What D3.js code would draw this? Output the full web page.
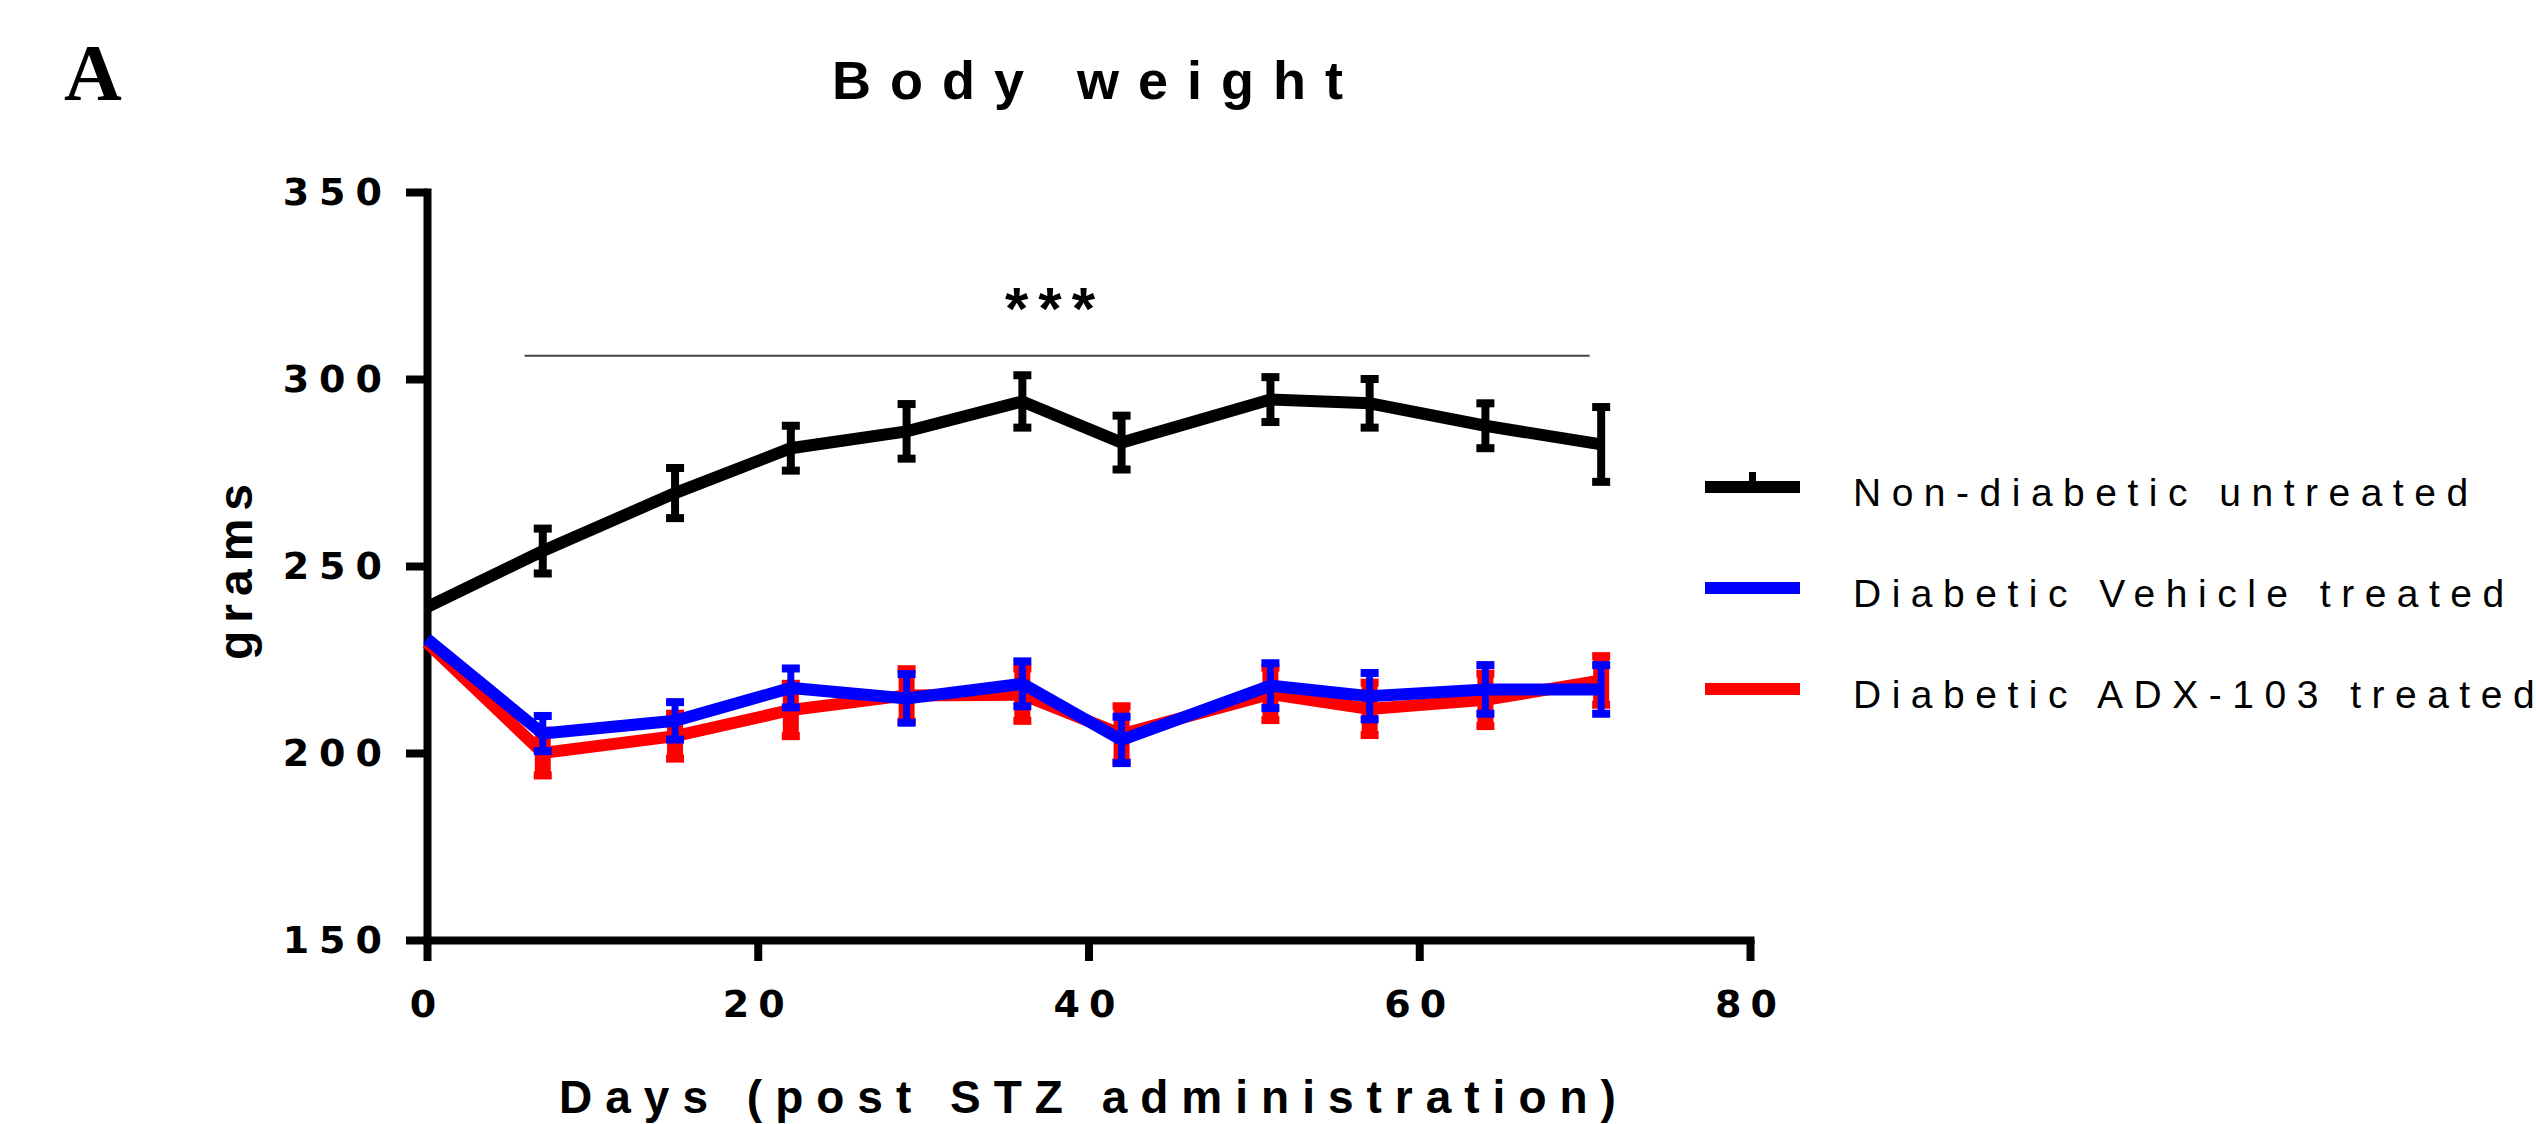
<!DOCTYPE html>
<html>
<head>
<meta charset="utf-8">
<script src="https://cdn.jsdelivr.net/npm/d3@7"></script>
<style>
  body { margin: 0; background: #fff; }
  svg { display: block; }
</style>
</head>
<body>
<div id="chart"></div>
<script>
const width = 2536;
const height = 1124;

// days post STZ
const days = [0, 7, 15, 22, 29, 36, 42, 51, 57, 64, 71];

const nonDiabetic = [239, 254, 269.5, 281.5, 286, 294, 283, 294.5, 293.5, 287.5, 282.5];
const nonDiabeticSem = [0, 6, 6.7, 6, 7.3, 7, 7.2, 6, 6.5, 6, 10];

const vehicle = [230.5, 205.2, 208.6, 217.4, 214.6, 218.5, 203.5, 218, 215.2, 217, 217];
const vehicleSem = [0, 4.7, 5, 5.2, 6.5, 6, 6.2, 6, 6.2, 6.5, 6.5];

const adx = [229.5, 200, 204.5, 211.5, 215.4, 215.6, 205, 215.8, 211.8, 214.2, 219.4];
const adxSem = [0, 6, 6, 7, 7, 7, 7.5, 7, 7, 7, 6.5];

const xTicks = [0, 20, 40, 60, 80];
const yTicks = [150, 200, 250, 300, 350];

const seriesNames = ["Non-diabetic untreated", "Diabetic Vehicle treated", "Diabetic ADX-103 treated"];
const seriesColors = ["#000000", "#0000ff", "#ff0000"];

// drawing order: black, red, then blue on top
const series = [
  { name: seriesNames[0], color: seriesColors[0], mean: nonDiabetic, sem: nonDiabeticSem, lw: 12, stem: 8 },
  { name: seriesNames[2], color: seriesColors[2], mean: adx, sem: adxSem, lw: 12, stem: 16 },
  { name: seriesNames[1], color: seriesColors[1], mean: vehicle, sem: vehicleSem, lw: 12, stem: 7 }
];

const x = d3.scaleLinear().domain([0, 80]).range([427, 1750]);
const y = d3.scaleLinear().domain([150, 350]).range([940, 192]);

const svg = d3.select("#chart")
  .append("svg")
  .attr("width", width)
  .attr("height", height);

// panel letter
svg.append("text")
  .attr("x", 64)
  .attr("y", 100)
  .attr("font-family", "Liberation Serif, Times New Roman, serif")
  .attr("font-weight", "bold")
  .attr("font-size", 80)
  .text("A");

// title
svg.append("text")
  .attr("x", 1087 + 10)
  .attr("y", 99)
  .attr("text-anchor", "middle")
  .attr("font-family", "Liberation Sans, Arial, sans-serif")
  .attr("font-weight", "bold")
  .attr("font-size", 54)
  .attr("letter-spacing", 19)
  .text("Body weight");

// axes
const xAxis = svg.append("g")
  .attr("transform", `translate(0,${y(150)})`)
  .call(d3.axisBottom(x).tickValues(xTicks).tickSize(21).tickSizeOuter(0).tickPadding(22));

const yAxis = svg.append("g")
  .attr("transform", `translate(${x(0)},0)`)
  .call(d3.axisLeft(y).tickValues(yTicks).tickSize(21).tickSizeOuter(0).tickPadding(24));

[xAxis, yAxis].forEach(g => {
  g.select(".domain").attr("stroke-width", 8).attr("stroke-linecap", "square");
  g.selectAll(".tick line").attr("stroke-width", 8);
  g.selectAll(".tick text")
    .attr("font-family", "DejaVu Sans, sans-serif")
    .attr("font-weight", "bold")
    .attr("font-size", 38)
    .attr("fill", "#000");
});
xAxis.selectAll(".tick text").attr("letter-spacing", 9).attr("dx", 0).attr("dy", "0.9em");
yAxis.selectAll(".tick text").attr("letter-spacing", 10).attr("dx", 10);

// axis titles
svg.append("text")
  .attr("x", 1088 + 6)
  .attr("y", 1113)
  .attr("text-anchor", "middle")
  .attr("font-family", "Liberation Sans, Arial, sans-serif")
  .attr("font-weight", "bold")
  .attr("font-size", 46)
  .attr("letter-spacing", 13)
  .text("Days (post STZ administration)");

svg.append("text")
  .attr("transform", "translate(252,568) rotate(-90)")
  .attr("text-anchor", "middle")
  .attr("font-family", "Liberation Sans, Arial, sans-serif")
  .attr("font-weight", "bold")
  .attr("font-size", 48)
  .attr("letter-spacing", 8)
  .text("grams");

// significance bar
svg.append("line")
  .attr("x1", x(5.9)).attr("x2", x(70.3))
  .attr("y1", y(306.2)).attr("y2", y(306.2))
  .attr("stroke", "#444")
  .attr("stroke-width", 2);

svg.append("text")
  .attr("x", 1050 + 5)
  .attr("y", 329)
  .attr("text-anchor", "middle")
  .attr("font-family", "Liberation Sans, Arial, sans-serif")
  .attr("font-weight", "bold")
  .attr("font-size", 60)
  .attr("letter-spacing", 10)
  .text("***");

// series
const line = d3.line()
  .x((d, i) => x(days[i]))
  .y(d => y(d));

series.forEach(s => {
  const g = svg.append("g");
  const pts = s.mean.map((m, i) => ({ day: days[i], m, e: s.sem[i] })).filter(p => p.e > 0);

  g.selectAll(".stem")
    .data(pts)
    .enter().append("line")
    .attr("x1", d => x(d.day)).attr("x2", d => x(d.day))
    .attr("y1", d => y(d.m + d.e)).attr("y2", d => y(d.m - d.e))
    .attr("stroke", s.color)
    .attr("stroke-width", s.stem);

  g.selectAll(".cap")
    .data(pts.flatMap(p => [p.m + p.e, p.m - p.e].map(v => ({ day: p.day, v }))))
    .enter().append("rect")
    .attr("x", d => x(d.day) - 9)
    .attr("y", d => y(d.v) - 4)
    .attr("width", 18)
    .attr("height", 8)
    .attr("fill", s.color);

  g.append("path")
    .datum(s.mean)
    .attr("d", line)
    .attr("fill", "none")
    .attr("stroke", s.color)
    .attr("stroke-width", s.lw)
    .attr("stroke-linejoin", "miter");
});

// legend
const legendY = [487, 588, 689];
const legendItems = [
  { name: seriesNames[0], color: seriesColors[0], tick: true },
  { name: seriesNames[1], color: seriesColors[1], tick: false },
  { name: seriesNames[2], color: seriesColors[2], tick: false }
];

const legend = svg.selectAll(".legend")
  .data(legendItems)
  .enter().append("g")
  .attr("transform", (d, i) => `translate(1705,${legendY[i]})`);

legend.append("rect")
  .attr("x", 0).attr("y", -6)
  .attr("width", 95).attr("height", 12)
  .attr("fill", d => d.color);

legend.filter(d => d.tick).append("rect")
  .attr("x", 44).attr("y", -15)
  .attr("width", 7).attr("height", 10)
  .attr("fill", d => d.color);

legend.append("text")
  .attr("x", 148)
  .attr("y", 19)
  .attr("font-family", "Liberation Sans, Arial, sans-serif")
  .attr("font-size", 39)
  .attr("letter-spacing", 10.5)
  .text(d => d.name);
</script>
</body>
</html>
